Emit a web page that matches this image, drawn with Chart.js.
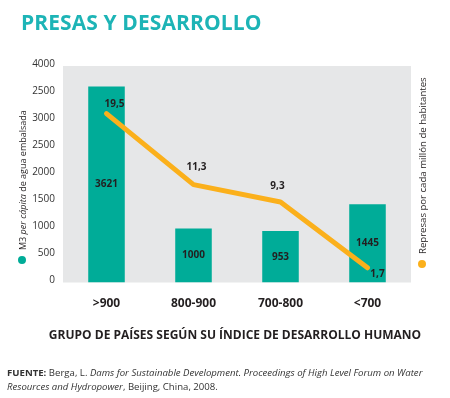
<!DOCTYPE html>
<html>
<head>
<meta charset="utf-8">
<script src="https://cdn.jsdelivr.net/npm/chart.js@4/dist/chart.umd.min.js"></script>
<style>
  html, body { margin: 0; padding: 0; background: #fff; }
  #wrap { position: relative; width: 450px; height: 398px; overflow: hidden; font-family: "Open Sans", sans-serif; }
  #c { position: absolute; left: 0; top: 0; }
  .title { position: absolute; left: 21px; top: 8px; font-weight: 700; font-size: 21px; color: #1db4b6; letter-spacing: 0.1px; white-space: nowrap; }
  .vt { position: absolute; height: 14px; display: flex; align-items: center; white-space: nowrap; color: #231f20; font-weight: 400; transform: rotate(-90deg); transform-origin: 50% 50%; }
  .vt span { flex: none; }
  .dot { display: inline-block; width: 8px; height: 8px; border-radius: 50%; margin-right: 6px; flex: none; }
  .xt { position: absolute; left: 0; width: 470px; top: 326px; text-align: center; font-weight: 700; font-size: 12px; color: #231f20; white-space: nowrap; }
  .src { position: absolute; left: 7px; top: 366px; width: 445px; font-size: 9.6px; line-height: 13.6px; color: #333; white-space: nowrap; }
</style>
</head>
<body>
<div id="wrap">
  <canvas id="c" width="450" height="398"></canvas>
  <div class="title">PRESAS Y DESARROLLO</div>
  <div class="vt" id="lt" style="left:-52px; top:183px; width:148px; font-size:9px;"><span class="dot" style="background:#00ac98"></span><span>M3 <i>per cápita</i> de agua embalsada</span></div>
  <div class="vt" id="rt" style="left:326px; top:165px; width:192px; font-size:9.6px;"><span class="dot" style="background:#fbb01b"></span><span>Represas por cada millón de habitantes</span></div>
  <div class="xt">GRUPO DE PAÍSES SEGÚN SU ÍNDICE DE DESARROLLO HUMANO</div>
  <div class="src"><b>FUENTE:</b> Berga, L. <i>Dams for Sustainable Development. Proceedings of High Level Forum on Water</i><br><i>Resources and Hydropower</i>, Beijing, China, 2008.</div>
</div>
<script>
const categories = ['>900', '800-900', '700-800', '<700'];
const waterPerCapita = [3621, 1000, 953, 1445];
const damsPerMillion = [19.5, 11.3, 9.3, 1.7];
const yTickLabels = ['0', '500', '1000', '1500', '2000', '2500', '3000', '2500', '4000'];

const fmt = v => String(v).replace('.', ',');

const bgPlugin = {
  id: 'bg',
  beforeDatasetsDraw(chart) {
    const a = chart.chartArea, ctx = chart.ctx;
    ctx.save();
    ctx.fillStyle = '#e6e7e8';
    ctx.fillRect(a.left, a.top, a.right - a.left, a.bottom - a.top);
    ctx.restore();
  }
};

const labelPlugin = {
  id: 'vlabels',
  afterDatasetsDraw(chart, args, opts) {
    const ctx = chart.ctx;
    ctx.save();
    ctx.font = 'bold 10px "Open Sans"';
    ctx.fillStyle = '#231f20';
    ctx.textAlign = 'center';
    ctx.textBaseline = 'middle';
    chart.getDatasetMeta(0).data.forEach((el, i) => {
      ctx.fillText(fmt(waterPerCapita[i]), el.x, (el.y + el.base) / 2);
    });
    chart.getDatasetMeta(1).data.forEach((el, i) => {
      const o = opts.lineOffsets[i];
      ctx.fillText(fmt(damsPerMillion[i]), el.x + o[0], el.y + o[1]);
    });
    ctx.restore();
  }
};

new Chart(document.getElementById('c'), {
  data: {
    labels: categories,
    datasets: [
      {
        type: 'bar', data: waterPerCapita, yAxisID: 'y',
        backgroundColor: '#00ac98', barPercentage: 0.42, categoryPercentage: 1, order: 2
      },
      {
        type: 'line', data: damsPerMillion, yAxisID: 'y1',
        borderColor: '#fbb01b', borderWidth: 5, pointRadius: 0, tension: 0,
        borderCapStyle: 'round', borderJoinStyle: 'round', order: 1
      }
    ]
  },
  options: {
    responsive: false,
    animation: false,
    layout: { padding: { top: 66, right: 39, left: 0, bottom: 0 } },
    plugins: {
      legend: { display: false },
      tooltip: { enabled: false },
      vlabels: { lineOffsets: [[8, -9], [3, -17], [-3, -16], [10, 6]] }
    },
    scales: {
      x: {
        grid: { display: false, drawTicks: false },
        border: { display: false },
        ticks: { font: { family: 'Open Sans', size: 12, weight: 'bold' }, color: '#231f20', padding: 14 },
        afterFit(s) { s.height = 115.5; }
      },
      y: {
        min: 0, max: 4000,
        grid: { display: false, drawTicks: false },
        border: { display: false },
        ticks: {
          stepSize: 500, padding: 8, labelOffset: -2,
          font: { family: 'Open Sans', size: 10 }, color: '#333',
          callback: (v, i) => yTickLabels[i]
        },
        afterFit(s) { s.width = 63; }
      },
      y1: { display: false, min: 0, max: 25, position: 'right' }
    }
  },
  plugins: [bgPlugin, labelPlugin]
});
</script>
</body>
</html>
